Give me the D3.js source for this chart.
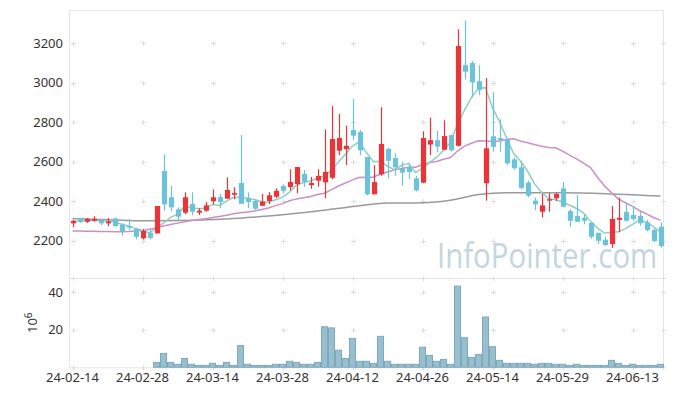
<!DOCTYPE html>
<html><head><meta charset="utf-8">
<script src="https://cdn.jsdelivr.net/npm/d3@7"></script>
<style>html,body{margin:0;padding:0;background:#fff;}svg{display:block;}</style>
</head><body>
<svg id="c" width="673" height="396"></svg>
<script>
const dates = ["2024-02-14","2024-02-15","2024-02-16","2024-02-19","2024-02-20","2024-02-21","2024-02-22","2024-02-23","2024-02-26","2024-02-27",
"2024-02-28","2024-02-29","2024-03-04","2024-03-05","2024-03-06","2024-03-07","2024-03-08","2024-03-11","2024-03-12","2024-03-13",
"2024-03-14","2024-03-15","2024-03-18","2024-03-19","2024-03-20","2024-03-21","2024-03-22","2024-03-25","2024-03-26","2024-03-27",
"2024-03-28","2024-03-29","2024-04-01","2024-04-02","2024-04-03","2024-04-04","2024-04-05","2024-04-08","2024-04-09","2024-04-11",
"2024-04-12","2024-04-15","2024-04-16","2024-04-17","2024-04-18","2024-04-19","2024-04-22","2024-04-23","2024-04-24","2024-04-25",
"2024-04-26","2024-04-29","2024-04-30","2024-05-02","2024-05-03","2024-05-07","2024-05-08","2024-05-09","2024-05-10","2024-05-13",
"2024-05-14","2024-05-16","2024-05-17","2024-05-20","2024-05-21","2024-05-22","2024-05-23","2024-05-24","2024-05-27","2024-05-28",
"2024-05-29","2024-05-30","2024-05-31","2024-06-03","2024-06-04","2024-06-05","2024-06-07","2024-06-10","2024-06-11","2024-06-12",
"2024-06-13","2024-06-14","2024-06-17","2024-06-18","2024-06-19"];
const open  = [2288,2313,2296,2301,2306,2288,2313,2281,2274,2259, 2212,2240,2237,2553,2420,2359,2342,2386,2342,2352,
 2401,2421,2413,2433,2492,2413,2401,2377,2401,2423, 2477,2472,2487,2538,2482,2504,2496,2519,2656,2664,
 2761,2751,2624,2435,2536,2665,2619,2565,2572,2516, 2494,2687,2709,2661,2735,2681,3089,3100,3008,2491,
 2729,2720,2710,2612,2572,2494,2403,2347,2403,2415, 2465,2350,2325,2316,2291,2240,2205,2183,2306,2345,
 2330,2325,2293,2254,2271];
const high  = [2307,2316,2315,2324,2311,2315,2315,2288,2308,2264, 2259,2254,2376,2638,2477,2369,2445,2445,2364,2396,
 2460,2437,2521,2471,2735,2445,2411,2437,2447,2465, 2486,2562,2573,2558,2523,2562,2764,2882,2842,2783,
 2918,2761,2624,2582,2876,2671,2643,2599,2592,2528, 2754,2823,2757,2810,2735,3271,3316,3110,3089,3024,
 2952,2815,2719,2622,2605,2504,2418,2437,2440,2443, 2497,2361,2430,2334,2291,2240,2220,2376,2418,2389,
 2376,2347,2306,2262,2293];
const low   = [2268,2290,2290,2296,2280,2273,2270,2225,2254,2207, 2207,2207,2237,2352,2349,2303,2335,2329,2330,2347,
 2384,2364,2411,2410,2387,2364,2357,2376,2386,2416, 2440,2455,2440,2473,2463,2474,2415,2511,2633,2583,
 2710,2633,2430,2435,2529,2516,2529,2479,2513,2450, 2491,2634,2648,2658,2651,2678,3018,2926,2938,2403,
 2651,2651,2583,2560,2460,2420,2355,2318,2347,2401, 2369,2271,2296,2283,2210,2183,2175,2163,2243,2296,
 2299,2276,2249,2193,2165];
const close = [2300,2295,2310,2310,2288,2298,2274,2249,2266,2220, 2249,2214,2376,2384,2369,2322,2420,2347,2352,2379,
 2420,2396,2457,2442,2387,2396,2362,2398,2430,2453, 2453,2497,2573,2499,2492,2528,2548,2715,2720,2681,
 2732,2658,2435,2497,2690,2605,2572,2545,2548,2455, 2720,2709,2677,2730,2658,3186,3056,3002,2963,2668,
 2676,2710,2592,2567,2468,2428,2384,2379,2410,2437, 2372,2301,2296,2301,2220,2200,2178,2310,2316,2301,
 2310,2288,2254,2198,2173];
// volume in millions
const volume = [0,0,0,0,0,0,0,0,0,0, 0,0,2.6,7.4,2.6,1.6,4.7,1.6,1.0,1.0,
 2.1,1.0,2.6,1.0,11.6,1.6,1.0,1.0,1.0,1.6, 1.6,3.2,2.6,1.6,1.6,2.6,21.6,21.0,9.1,4.7,
 15.4,3.2,3.2,2.1,16.5,3.2,1.6,1.6,1.6,1.6, 10.7,6.3,3.2,4.2,1.6,43.3,15.8,5.3,6.8,26.8,
 11.0,3.7,2.1,2.1,2.1,2.1,1.6,2.1,2.1,1.6, 1.6,1.0,1.6,1.0,1.0,1.0,1.0,3.7,2.1,1.0,
 1.6,1.0,1.0,1.0,1.6];
// moving-average values before enough history is visible
const ma5Head  = [2298,2300,2302,2303];
const ma20Head = [2249,2249,2248,2248,2247,2247,2246,2246,2247,2249,2252,2258,2266,2275,2282,2289,2296,2302,2308];
// long moving average: [day index, value]
const maLongIdx = [0,6,10,15,20,22,28,35,41,45,49,54,58,62,70,77,84];
const maLongVal = [2313,2305,2301,2302,2307,2310,2325,2350,2377,2391,2391,2405,2434,2443,2443,2437,2426];

const tickDates  = ["2024-02-14","2024-02-28","2024-03-14","2024-03-28","2024-04-12","2024-04-26","2024-05-14","2024-05-29","2024-06-13"];
const tickLabels = ["24-02-14","24-02-28","24-03-14","24-03-28","24-04-12","24-04-26","24-05-14","24-05-29","24-06-13"];
const priceTicks = [2200,2400,2600,2800,3000,3200];
const volTicks = [20,40];

function movAvg(n, head){
  return close.map((c,i)=> i>=n-1 ? d3.mean(close.slice(i-n+1,i+1)) : head[i]);
}
const ma5 = movAvg(5, ma5Head);
const ma20 = movAvg(20, ma20Head);

const svg = d3.select("#c");
const L=69, R=664, T=10, MB=277.7, VT=278, VB=367.3;
const x = d3.scaleBand().domain(dates).range([L,R]).paddingInner(0).paddingOuter(0);
const cx = d => x(d)+x.bandwidth()/2;
const y = d3.scaleLinear().domain([2012.6,3368.7]).range([MB,T]);
const yv = d3.scaleLinear().domain([0,47.6]).range([VB,VT]);

const gridC = "#dedede";
const bc = "#e6e6e6";
svg.append("line").attr("x1",L).attr("x2",R-0.5).attr("y1",T+0.5).attr("y2",T+0.5).attr("stroke",bc);
svg.append("line").attr("x1",L+0.5).attr("x2",L+0.5).attr("y1",T).attr("y2",VB).attr("stroke",bc);
svg.append("line").attr("x1",R-0.5).attr("x2",R-0.5).attr("y1",T).attr("y2",VB).attr("stroke",bc);
svg.append("line").attr("x1",L).attr("x2",R).attr("y1",VT+0.5).attr("y2",VT+0.5).attr("stroke",bc);
svg.append("line").attr("x1",L).attr("x2",R).attr("y1",VB+0.5).attr("y2",VB+0.5).attr("stroke",bc);

function cross(px,py){
  svg.append("path").attr("d",`M${px-2.5},${py}H${px+2.5}M${px},${py-2.5}V${py+2.5}`)
    .attr("stroke",gridC).attr("stroke-width",1).attr("fill","none");
}
const xs = tickDates.map(d=>Math.round(cx(d))+0.5).concat([R-0.5]);
priceTicks.forEach(v=>xs.forEach(px=>cross(px,Math.round(y(v))+0.5)));
volTicks.forEach(v=>xs.forEach(px=>cross(px,Math.round(yv(v))+0.5)));
xs.forEach(px=>cross(px,VT+0.5));
xs.forEach(px=>cross(px,VB+0.5));

// watermark (narrowed with a horizontal scale)
svg.append("g").attr("transform","translate(437,268) scale(0.84,1)")
  .append("text").attr("x",0).attr("y",0)
  .attr("font-family","Open Sans, sans-serif").attr("font-size",35).attr("fill","#c3d6e0")
  .text("InfoPointer.com");

const tf = "Noto Sans, sans-serif";
svg.append("g").selectAll("text").data(priceTicks).join("text")
  .attr("x",63).attr("y",v=>y(v)+4.5).attr("text-anchor","end")
  .attr("font-family",tf).attr("font-size",13).attr("fill","#333").text(v=>v);
svg.append("g").selectAll("text").data(volTicks).join("text")
  .attr("x",63).attr("y",v=>yv(v)+4.5).attr("text-anchor","end")
  .attr("font-family",tf).attr("font-size",13).attr("fill","#333").text(v=>v);
const ut = svg.append("text").attr("transform","translate(37,333) rotate(-90)")
  .attr("font-family",tf).attr("font-size",13).attr("fill","#333");
ut.append("tspan").text("10");
ut.append("tspan").attr("dy",-5).attr("font-size",10).text("6");

svg.append("g").selectAll("text").data(tickDates).join("text")
  .attr("x",d=>cx(d)).attr("y",382).attr("text-anchor","middle")
  .attr("font-family",tf).attr("font-size",13).attr("fill","#333")
  .text((d,i)=>tickLabels[i]);

svg.append("g").selectAll("rect").data(dates).join("rect")
  .attr("x",d=>x(d)+0.5).attr("width",x.bandwidth()-1)
  .attr("y",(d,i)=>yv(volume[i])).attr("height",(d,i)=>Math.max(0,VB-yv(volume[i])))
  .attr("fill","#97bfcf").attr("stroke","#7ea9bd").attr("stroke-width",1)
  .attr("display",(d,i)=>volume[i]>0?null:"none");

const line = d3.line().x((v,i)=>cx(dates[i])).y(v=>y(v));
svg.append("path").datum(maLongVal).attr("fill","none").attr("stroke","#9a9a9a").attr("stroke-width",1.5)
  .attr("d", d3.line().curve(d3.curveMonotoneX).x((v,k)=>cx(dates[maLongIdx[k]])).y(v=>y(v)));
svg.append("path").datum(ma20).attr("fill","none").attr("stroke","#cc8fc6").attr("stroke-width",1.5).attr("d",line);
svg.append("path").datum(ma5).attr("fill","none").attr("stroke","#8fcfc3").attr("stroke-width",1.5).attr("d",line);

const up="#ec3338", dn="#6bc2d9";
const g = svg.append("g");
g.selectAll("line").data(dates).join("line")
  .attr("x1",d=>Math.round(cx(d))+0.5).attr("x2",d=>Math.round(cx(d))+0.5)
  .attr("y1",(d,i)=>y(high[i])).attr("y2",(d,i)=>y(low[i]))
  .attr("stroke",(d,i)=>close[i]>=open[i]?up:dn).attr("stroke-width",1.2);
g.selectAll("rect").data(dates).join("rect")
  .attr("x",d=>Math.round(cx(d))+0.5-2.6).attr("width",5.2)
  .attr("y",(d,i)=>y(Math.max(open[i],close[i])))
  .attr("height",(d,i)=>Math.max(1.2,Math.abs(y(open[i])-y(close[i]))))
  .attr("fill",(d,i)=>close[i]>=open[i]?up:dn);
</script>
</body></html>
